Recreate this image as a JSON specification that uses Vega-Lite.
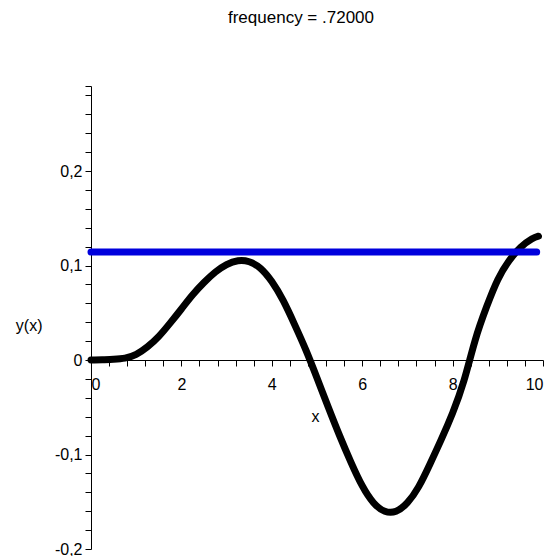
{
  "$schema": "https://vega.github.io/schema/vega-lite/v6.json",
  "width": 452,
  "height": 463,
  "autosize": {"type": "none"},
  "padding": {"left": 91, "top": 86, "right": 6, "bottom": 7},
  "background": "white",
  "title": {"text": "frequency = .72000", "font": "Liberation Sans", "fontSize": 17, "fontWeight": "normal", "color": "black", "anchor": "middle", "offset": 51, "dx": -16},
  "config": {
    "view": {"stroke": null},
    "axis": {"grid": false, "domainColor": "black", "tickColor": "black", "labelColor": "black", "titleColor": "black", "labelFont": "Liberation Sans", "titleFont": "Liberation Sans", "labelFontSize": 16, "titleFontSize": 16, "titleFontWeight": "normal", "labelOverlap": false, "labelBound": false}
  },
  "datasets": {
    "curve": [
      {"x": 0, "y": 0}, {"x": 0.25, "y": 0.0002}, {"x": 0.5, "y": 0.0008}, {"x": 0.75, "y": 0.002},
      {"x": 1.0, "y": 0.006}, {"x": 1.25, "y": 0.014}, {"x": 1.5, "y": 0.025}, {"x": 1.75, "y": 0.039},
      {"x": 2.0, "y": 0.054}, {"x": 2.25, "y": 0.069}, {"x": 2.5, "y": 0.082}, {"x": 2.75, "y": 0.093},
      {"x": 3.0, "y": 0.101}, {"x": 3.25, "y": 0.105}, {"x": 3.5, "y": 0.104}, {"x": 3.75, "y": 0.097},
      {"x": 4.0, "y": 0.083}, {"x": 4.25, "y": 0.063}, {"x": 4.5, "y": 0.038}, {"x": 4.75, "y": 0.011},
      {"x": 5.0, "y": -0.019}, {"x": 5.25, "y": -0.05}, {"x": 5.5, "y": -0.08}, {"x": 5.75, "y": -0.108},
      {"x": 6.0, "y": -0.133}, {"x": 6.25, "y": -0.151}, {"x": 6.5, "y": -0.16}, {"x": 6.75, "y": -0.16},
      {"x": 7.0, "y": -0.151}, {"x": 7.25, "y": -0.134}, {"x": 7.5, "y": -0.11}, {"x": 7.75, "y": -0.084},
      {"x": 8.0, "y": -0.056}, {"x": 8.25, "y": -0.022}, {"x": 8.5, "y": 0.021}, {"x": 8.75, "y": 0.056},
      {"x": 9.0, "y": 0.085}, {"x": 9.25, "y": 0.105}, {"x": 9.5, "y": 0.119}, {"x": 9.75, "y": 0.128},
      {"x": 9.9, "y": 0.131}
    ],
    "level": [{"x": 0, "y": 0.1143}, {"x": 9.86, "y": 0.1143}]
  },
  "encoding": {
    "x": {
      "field": "x", "type": "quantitative",
      "scale": {"domain": [0, 10], "nice": false, "zero": false},
      "axis": {
        "title": "x", "offset": -189, "tickSize": 6, "labelPadding": 10,
        "values": [0,0.4,0.8,1.2,1.6,2,2.4,2.8,3.2,3.6,4,4.4,4.8,5.2,5.6,6,6.4,6.8,7.2,7.6,8,8.4,8.8,9.2,9.6,10],
        "labelExpr": "abs(datum.value/2 - round(datum.value/2)) < 0.000001 ? format(datum.value, 'd') : ''",
        "titleX": 224, "titleY": 56, "titleAlign": "center", "titleBaseline": "middle"
      }
    },
    "y": {
      "field": "y", "type": "quantitative",
      "scale": {"domain": [-0.2, 0.29], "nice": false, "zero": false},
      "axis": {
        "title": "y(x)", "tickSize": 6, "labelPadding": 3, "labelBaseline": "middle",
        "values": [-0.2,-0.18,-0.16,-0.14,-0.12,-0.1,-0.08,-0.06,-0.04,-0.02,0,0.02,0.04,0.06,0.08,0.1,0.12,0.14,0.16,0.18,0.2,0.22,0.24,0.26,0.28,0.29],
        "labelExpr": "abs(datum.value*10 - round(datum.value*10)) < 0.000001 ? (datum.value == 0 ? '0' : (datum.value < 0 ? '-' : '') + replace(format(abs(datum.value), '.1f'), '.', ',')) : ''",
        "titleAngle": 0, "titleX": -49, "titleY": 239, "titleAlign": "right", "titleBaseline": "middle"
      }
    }
  },
  "layer": [
    {"data": {"name": "curve"}, "mark": {"type": "line", "color": "black", "strokeWidth": 7, "interpolate": "natural", "strokeCap": "round", "strokeJoin": "round"}},
    {"data": {"name": "level"}, "mark": {"type": "line", "color": "#0000dd", "strokeWidth": 7, "strokeCap": "round"}}
  ]
}
